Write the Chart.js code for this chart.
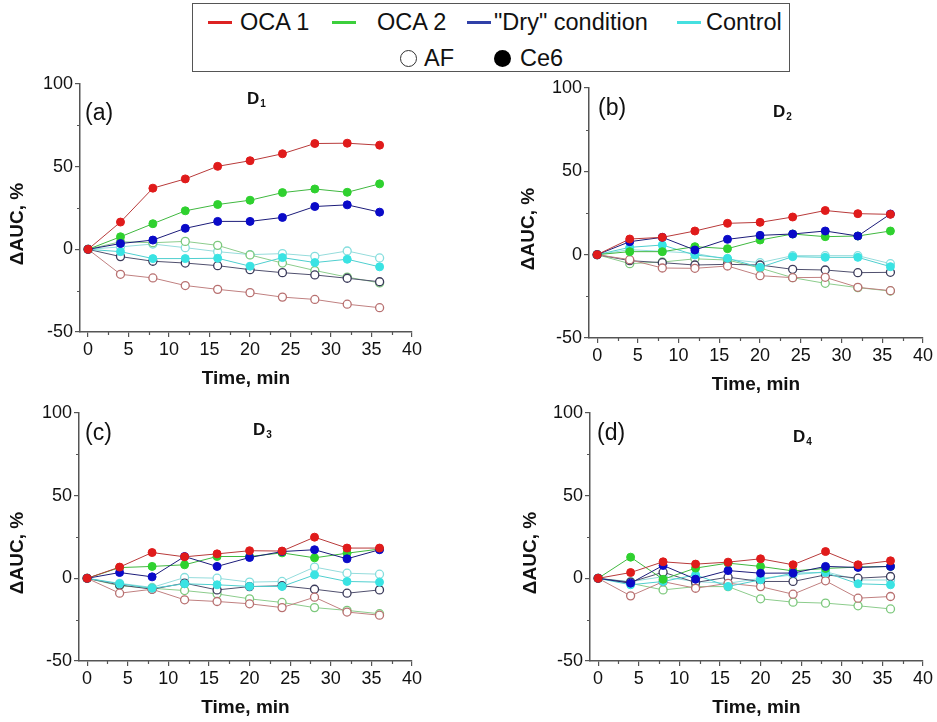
<!DOCTYPE html>
<html><head><meta charset="utf-8">
<script src="https://cdn.jsdelivr.net/npm/chart.js@4.4.1/dist/chart.umd.min.js"></script>
<style>
html,body{margin:0;padding:0;width:937px;height:722px;overflow:hidden;background:#fff;font-family:'Liberation Sans',Arial,sans-serif;}
canvas{position:absolute;}
.t{position:absolute;white-space:nowrap;color:#111;}
.lg{font-size:23.5px;line-height:26px;}
.ln{position:absolute;height:3px;width:24px;}
.pl{font-size:23px;line-height:26px;}
.dl{font-size:17px;line-height:20px;font-weight:bold;}
.dl sub{font-size:10px;vertical-align:-3px;margin-left:1px;}
#box{position:absolute;left:192px;top:3px;width:598px;height:69px;box-sizing:border-box;border:1.3px solid #555;}
.mk{position:absolute;width:17px;height:17px;border-radius:50%;box-sizing:border-box;}
</style></head><body>
<div id="box"></div>
<div class="ln" style="left:208px;top:21px;background:#dd2222"></div>
<div class="t lg" style="left:240px;top:9px">OCA 1</div>
<div class="ln" style="left:332px;top:21px;background:#3ccf3c"></div>
<div class="t lg" style="left:377px;top:9px">OCA 2</div>
<div class="ln" style="left:467px;top:21px;background:#3040a8"></div>
<div class="t lg" style="left:494px;top:9px">"Dry" condition</div>
<div class="ln" style="left:677px;top:21px;background:#45e0e0"></div>
<div class="t lg" style="left:706px;top:9px">Control</div>
<div class="mk" style="left:400px;top:50px;border:1.5px solid #333;background:#fff"></div>
<div class="t lg" style="left:424px;top:45px">AF</div>
<div class="mk" style="left:494px;top:50px;background:#000"></div>
<div class="t lg" style="left:520px;top:45px">Ce6</div>

<canvas id="ca" width="450" height="334" style="left:0px;top:60px"></canvas>
<canvas id="cb" width="426" height="340" style="left:511px;top:60px"></canvas>
<canvas id="cc" width="450" height="333" style="left:0px;top:390px"></canvas>
<canvas id="cd" width="424" height="333" style="left:513px;top:390px"></canvas>

<div class="t pl" style="left:85px;top:99px">(a)</div>
<div class="t pl" style="left:598px;top:94px">(b)</div>
<div class="t pl" style="left:85px;top:419px">(c)</div>
<div class="t pl" style="left:597px;top:419px">(d)</div>
<div class="t dl" style="left:247px;top:89px">D<sub>1</sub></div>
<div class="t dl" style="left:773px;top:102px">D<sub>2</sub></div>
<div class="t dl" style="left:253px;top:420px">D<sub>3</sub></div>
<div class="t dl" style="left:793px;top:427px">D<sub>4</sub></div>

<script>
// ---- data ----
const TIME = [0, 4, 8, 12, 16, 20, 24, 28, 32, 36];
const X_TICKS = [0, 5, 10, 15, 20, 25, 30, 35, 40];
const X_MINOR = [2.5, 7.5, 12.5, 17.5, 22.5, 27.5, 32.5, 37.5];
const Y_TICKS = [-50, 0, 50, 100];
const Y_MINOR = [-25, 25, 75];
const Y_TITLE = 'ΔAUC, %';
const X_TITLE = 'Time, min';

// D1
const D1_OCA1_CE6 = [0, 16.5, 37, 42.6, 50.2, 53.6, 57.8, 64, 64.2, 63];
const D1_OCA2_CE6 = [0, 7.6, 15.5, 23.3, 27.1, 29.7, 34.3, 36.5, 34.5, 39.6];
const D1_DRY_CE6  = [0, 3.5, 5.6, 12.7, 16.9, 16.9, 19.3, 25.9, 26.9, 22.5];
const D1_CTRL_CE6 = [0, -1.4, -5.6, -5.6, -5.4, -10.2, -5, -8, -6, -10.6];
const D1_OCA1_AF  = [0, -15.1, -17.3, -21.9, -24.2, -26.2, -28.9, -30.3, -33.2, -35.3];
const D1_OCA2_AF  = [0, 4.6, 4, 4.8, 2.4, -3.4, -8.3, -12.8, -16.8, -20.3];
const D1_DRY_AF   = [0, -4.4, -7.2, -8.3, -9.9, -12.3, -14.1, -15.5, -17.5, -19.6];
const D1_CTRL_AF  = [0, 1.5, 3.2, 1, -1.4, -3.2, -2.6, -4.2, -1, -5.2];
// D2
const D2_OCA1_CE6 = [0, 9.4, 10.4, 14.2, 18.8, 19.4, 22.6, 26.5, 24.6, 24.2];
const D2_OCA2_CE6 = [0, 1.8, 1.8, 4.8, 3.6, 8.8, 12.4, 10.8, 11.2, 14.2];
const D2_DRY_CE6  = [0, 7.8, 10.4, 2.8, 9.2, 11.6, 12.4, 14.2, 11.2, 24.4];
const D2_CTRL_CE6 = [0, 4.4, 5.8, -0.2, -2.2, -7.6, -1.2, -1.6, -1.6, -7.2];
const D2_OCA1_AF  = [0, -3, -8, -8.2, -6.8, -12.6, -13.8, -13.6, -19.6, -21.6];
const D2_OCA2_AF  = [0, -5.4, -4.4, -2.5, -3.2, -8, -13.8, -17.2, -19.8, -21.8];
const D2_DRY_AF   = [0, -3.6, -4.8, -6.2, -5.8, -6.2, -8.8, -9.2, -10.8, -10.6];
const D2_CTRL_AF  = [0, 3, 2, 0.8, -2.8, -4.8, -0.6, -0.6, -0.6, -5.4];
// D3
const D3_OCA1_CE6 = [0, 6.8, 15.6, 13, 14.8, 16.7, 16.5, 24.9, 18.3, 18.3];
const D3_OCA2_CE6 = [0, 6.5, 7.2, 8.2, 13.2, 13.2, 15.4, 12.4, 15.2, 17.7];
const D3_DRY_CE6  = [0, 3.5, 0.9, 13.2, 7.2, 12.6, 16.2, 17.3, 11.8, 17.3];
const D3_CTRL_CE6 = [0, -3.3, -6, -3.3, -3.9, -4.9, -4.9, 2.1, -1.9, -2.3];
const D3_OCA1_AF  = [0, -9, -6.6, -13, -14, -15.4, -17.7, -11.4, -20.4, -22.3];
const D3_OCA2_AF  = [0, -4.5, -6, -7.4, -9.4, -12.4, -14.6, -17.7, -19.4, -21.4];
const D3_DRY_AF   = [0, -4, -6.6, -2.9, -7, -5, -4.5, -6.6, -9, -7];
const D3_CTRL_AF  = [0, -3, -5.5, 0.5, 0.1, -2.3, -1.9, 6.8, 3.1, 2.5];
// D4
const D4_OCA1_CE6 = [0, 3.5, 10, 8.6, 9.8, 11.8, 8.2, 16.2, 8.2, 10.6];
const D4_OCA2_CE6 = [0, 12.8, -0.6, 6.2, 9.2, 7.2, 4.5, 6, 6.8, 7.2];
const D4_DRY_CE6  = [0, -2.9, 7.8, -0.5, 4.7, 3.1, 3.2, 7.2, 6.6, 7.2];
const D4_CTRL_CE6 = [0, -3.9, -1.9, 2.1, -4.9, -0.9, 3.1, 3.5, -3.3, -3.9];
const D4_OCA1_AF  = [0, -10.6, -2, -6, -3, -5, -9.6, -1.5, -12, -11];
const D4_OCA2_AF  = [0, -3, -7, -5, -5, -12.4, -14.4, -15, -16.6, -18.5];
const D4_DRY_AF   = [0, -2.3, 3.7, -2.5, 0.7, -1.9, -1.9, 2.1, 0.1, 1.1];
const D4_CTRL_AF  = [0, -2, 1, -2, -3, 0, 2, 4, -1, -1];

// ---- styles ----
const AXIS = '#555';
const FONT = "'Liberation Sans', Arial, sans-serif";
const STYLE = {
  oca1: {fill: '#e01b1b', line: '#b83a3a', edge: '#b87070', aline: '#c08080'},
  oca2: {fill: '#2fd12f', line: '#40b840', edge: '#7cc87c', aline: '#8ccc8c'},
  dry:  {fill: '#0a0ac8', line: '#1c1c7a', edge: '#3a3a5a', aline: '#50506e'},
  ctrl: {fill: '#3ae3e3', line: '#4fcfcf', edge: '#85dede', aline: '#95dcdc'}
};

function ds(label, values, st, filled) {
  return {
    label: label,
    data: TIME.map((t, i) => ({x: t, y: values[i]})),
    borderColor: filled ? st.line : st.aline,
    borderWidth: 1,
    pointRadius: 4,
    pointHoverRadius: 4,
    pointBackgroundColor: filled ? st.fill : '#fff',
    pointBorderColor: filled ? st.fill : st.edge,
    pointBorderWidth: filled ? 1 : 1.3,
    tension: 0,
    fill: false
  };
}

const minorTicks = {
  id: 'minorTicks',
  afterDraw(chart) {
    const {ctx, chartArea} = chart;
    const x = chart.scales.x, y = chart.scales.y;
    ctx.save();
    ctx.strokeStyle = AXIS;
    ctx.lineWidth = 1.2;
    ctx.beginPath();
    X_MINOR.forEach(v => { const p = Math.round(x.getPixelForValue(v)) + 0.5; ctx.moveTo(p, chartArea.bottom); ctx.lineTo(p, chartArea.bottom + 3); });
    Y_MINOR.forEach(v => { const p = Math.round(y.getPixelForValue(v)) + 0.5; ctx.moveTo(chartArea.left, p); ctx.lineTo(chartArea.left - 3, p); });
    ctx.stroke();
    // y-axis title, placed a little below the axis centre as in the original figure
    ctx.fillStyle = '#111';
    ctx.font = "bold 19px " + FONT;
    ctx.textAlign = 'center';
    ctx.textBaseline = 'middle';
    ctx.translate(y.left + 17.5, (chartArea.top + chartArea.bottom) / 2 + 16);
    ctx.rotate(-Math.PI / 2);
    ctx.fillText(Y_TITLE, 0, 0);
    ctx.restore();
  }
};

function makeChart(id, sets, g) {
  const datasets = [
    ds('OCA 1 Ce6', sets.oca1Ce6, STYLE.oca1, true),
    ds('"Dry" condition Ce6', sets.dryCe6, STYLE.dry, true),
    ds('OCA 2 Ce6', sets.oca2Ce6, STYLE.oca2, true),
    ds('Control Ce6', sets.ctrlCe6, STYLE.ctrl, true),
    ds('OCA 1 AF', sets.oca1AF, STYLE.oca1, false),
    ds('"Dry" condition AF', sets.dryAF, STYLE.dry, false),
    ds('OCA 2 AF', sets.oca2AF, STYLE.oca2, false),
    ds('Control AF', sets.ctrlAF, STYLE.ctrl, false)
  ];
  const tickFont = {family: FONT, size: 18};
  const titleFont = {family: FONT, size: 19, weight: 'bold'};
  return new Chart(document.getElementById(id), {
    type: 'line',
    data: {datasets},
    options: {
      responsive: false,
      animation: false,
      devicePixelRatio: 1,
      events: [],
      layout: {padding: {top: g.pt, right: g.pr, left: 0, bottom: 0}},
      plugins: {legend: {display: false}, tooltip: {enabled: false}},
      scales: {
        x: {
          type: 'linear', min: -1, max: 40,
          afterBuildTicks: s => { s.ticks = X_TICKS.map(v => ({value: v})); },
          afterFit: s => { s.height = 62; },
          grid: {drawOnChartArea: false, drawTicks: true, tickLength: 5, color: AXIS, lineWidth: 1.2},
          border: {display: true, color: AXIS, width: 1.5},
          ticks: {padding: 2, color: '#111', font: tickFont, maxRotation: 0, autoSkip: false},
          title: {display: true, text: X_TITLE, color: '#111', font: titleFont, padding: {top: 4, bottom: 4}}
        },
        y: {
          type: 'linear', min: -50, max: 100,
          afterBuildTicks: s => { s.ticks = Y_TICKS.map(v => ({value: v})); },
          afterFit: s => { s.width = g.yw; },
          grid: {drawOnChartArea: false, drawTicks: true, tickLength: 5, color: AXIS, lineWidth: 1.2},
          border: {display: true, color: AXIS, width: 1.5},
          ticks: {padding: 2, color: '#111', font: tickFont, autoSkip: false},
          title: {display: false}
        }
      }
    },
    plugins: [minorTicks]
  });
}

makeChart('ca', {oca1Ce6: D1_OCA1_CE6, oca2Ce6: D1_OCA2_CE6, dryCe6: D1_DRY_CE6, ctrlCe6: D1_CTRL_CE6,
  oca1AF: D1_OCA1_AF, oca2AF: D1_OCA2_AF, dryAF: D1_DRY_AF, ctrlAF: D1_CTRL_AF}, {pt: 24, pr: 38, yw: 80});
makeChart('cb', {oca1Ce6: D2_OCA1_CE6, oca2Ce6: D2_OCA2_CE6, dryCe6: D2_DRY_CE6, ctrlCe6: D2_CTRL_CE6,
  oca1AF: D2_OCA1_AF, oca2AF: D2_OCA2_AF, dryAF: D2_DRY_AF, ctrlAF: D2_CTRL_AF}, {pt: 28, pr: 14, yw: 78});
makeChart('cc', {oca1Ce6: D3_OCA1_CE6, oca2Ce6: D3_OCA2_CE6, dryCe6: D3_DRY_CE6, ctrlCe6: D3_CTRL_CE6,
  oca1AF: D3_OCA1_AF, oca2AF: D3_OCA2_AF, dryAF: D3_DRY_AF, ctrlAF: D3_CTRL_AF}, {pt: 23, pr: 38, yw: 79});
makeChart('cd', {oca1Ce6: D4_OCA1_CE6, oca2Ce6: D4_OCA2_CE6, dryCe6: D4_DRY_CE6, ctrlCe6: D4_CTRL_CE6,
  oca1AF: D4_OCA1_AF, oca2AF: D4_OCA2_AF, dryAF: D4_DRY_AF, ctrlAF: D4_CTRL_AF}, {pt: 23, pr: 14, yw: 77});
</script>
</body></html>
